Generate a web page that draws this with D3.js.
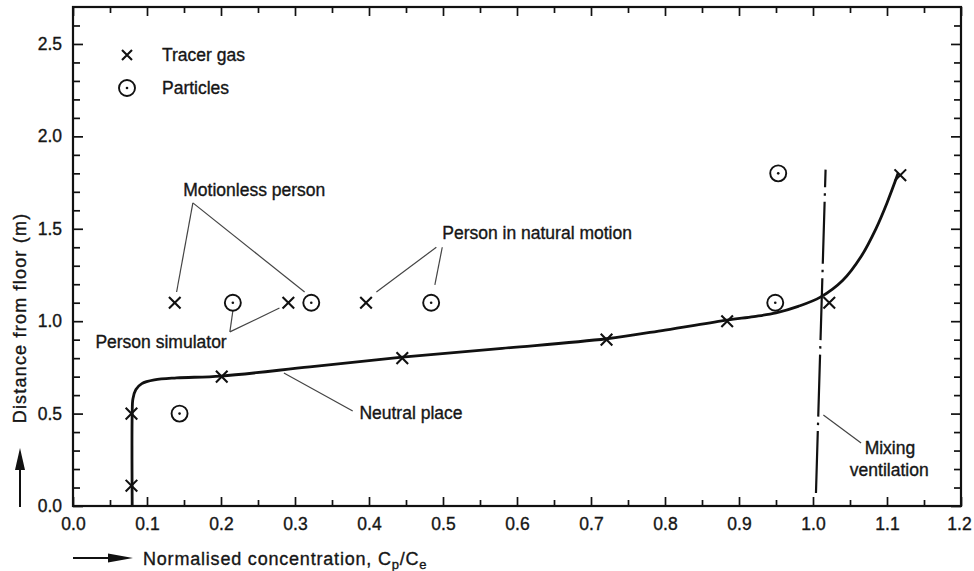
<!DOCTYPE html>
<html>
<head>
<meta charset="utf-8">
<script src="https://cdn.jsdelivr.net/npm/d3@7"></script>
<style>
  body { margin: 0; background: #fff; }
  svg text { font-family: Arial, "Liberation Sans", Helvetica, sans-serif; fill: #161616; stroke: #161616; stroke-width: 0.35px; }
</style>
</head>
<body>
<svg id="canvas" width="974" height="571"></svg>
<script>
// values
let xMajor = [0, 0.1, 0.2, 0.3, 0.4, 0.5, 0.6, 0.7, 0.8, 0.9, 1.0, 1.1, 1.2]
let xMinor = [0.05, 0.15, 0.25, 0.35, 0.45, 0.55, 0.65, 0.75, 0.85, 0.95, 1.05, 1.15]
let yMajor = [0, 0.5, 1.0, 1.5, 2.0, 2.5]
let yMinor = [0.1, 0.2, 0.3, 0.4, 0.6, 0.7, 0.8, 0.9, 1.1, 1.2, 1.3, 1.4, 1.6, 1.7, 1.8, 1.9, 2.1, 2.2, 2.3, 2.4, 2.6]

// neutral place profile (solid curve)
let curveX = [0.080, 0.080, 0.081, 0.085, 0.093, 0.110, 0.140, 0.200, 0.320, 0.445, 0.580, 0.721, 0.800, 0.884, 0.920, 0.950, 0.980, 1.010, 1.040, 1.065, 1.085, 1.100, 1.115]
let curveY = [0.0, 0.50, 0.58, 0.63, 0.662, 0.682, 0.693, 0.703, 0.753, 0.805, 0.853, 0.905, 0.952, 1.006, 1.025, 1.045, 1.080, 1.130, 1.220, 1.350, 1.500, 1.640, 1.800]

// tracer gas (x markers)
let tracerX = [0.079, 0.079, 0.201, 0.445, 0.721, 0.884, 1.022, 1.118, 0.1375, 0.291, 0.396]
let tracerY = [0.11, 0.5, 0.7, 0.8, 0.9, 1.0, 1.1, 1.79, 1.1, 1.1, 1.1]

// particles (dotted circles)
let particleX = [0.144, 0.216, 0.322, 0.484, 0.949, 0.953]
let particleY = [0.5, 1.1, 1.1, 1.1, 1.1, 1.8]

// mixing ventilation (dash-dot line)
let mixingX = [1.004, 1.017]
let mixingY = [0.07, 1.82]

let labels = [
    {text: 'Motionless person', x: 0.245, y: 1.677, anchor: 'middle'},
    {text: 'Person simulator', x: 0.119, y: 0.855, anchor: 'middle'},
    {text: 'Person in natural motion', x: 0.499, y: 1.445, anchor: 'start'},
    {text: 'Neutral place', x: 0.387, y: 0.471, anchor: 'start'},
    {text: 'Mixing', x: 1.104, y: 0.281, anchor: 'middle'},
    {text: 'ventilation', x: 1.103, y: 0.162, anchor: 'middle'}
]

let leaders = [
    [0.162, 1.64, 0.140, 1.158],
    [0.162, 1.64, 0.313, 1.158],
    [0.212, 0.942, 0.216, 1.055],
    [0.212, 0.942, 0.279, 1.071],
    [0.491, 1.40, 0.410, 1.158],
    [0.499, 1.40, 0.489, 1.196],
    [0.378, 0.514, 0.285, 0.72],
    [1.014, 0.492, 1.065, 0.341]
]

let canvas = d3.select('#canvas')

let xScale = d3.scaleLinear().domain([0, 1.2]).range([73, 961])
let yScale = d3.scaleLinear().domain([0, 2.7]).range([506, 7])

let fmt = d3.format('.1f')

let styleAxis = (g) => {
    g.select('.domain').remove()
    g.selectAll('line').attr('stroke', '#111').attr('stroke-width', 1.7)
    g.selectAll('text').attr('font-size', 17.5).style('font-family', 'Arial, "Liberation Sans", sans-serif').attr('fill', '#161616')
}

// bottom
canvas.append('g').attr('transform', 'translate(0,506)')
    .call(d3.axisBottom(xScale).tickValues(xMajor).tickFormat(fmt).tickSize(-9).tickPadding(12))
    .call(styleAxis)
    .call(g => g.selectAll('text').filter(d => d === 1.2).attr('dx', -2))
canvas.append('g').attr('transform', 'translate(0,506)')
    .call(d3.axisBottom(xScale).tickValues(xMinor).tickFormat('').tickSize(-6))
    .call(styleAxis)
// top
canvas.append('g').attr('transform', 'translate(0,7)')
    .call(d3.axisTop(xScale).tickValues(xMajor).tickFormat('').tickSize(-9))
    .call(styleAxis)
canvas.append('g').attr('transform', 'translate(0,7)')
    .call(d3.axisTop(xScale).tickValues(xMinor).tickFormat('').tickSize(-6))
    .call(styleAxis)
// left
canvas.append('g').attr('transform', 'translate(73,0)')
    .call(d3.axisLeft(yScale).tickValues(yMajor).tickFormat(fmt).tickSize(-10).tickPadding(11))
    .call(styleAxis)
canvas.append('g').attr('transform', 'translate(73,0)')
    .call(d3.axisLeft(yScale).tickValues(yMinor).tickFormat('').tickSize(-7))
    .call(styleAxis)
// right
canvas.append('g').attr('transform', 'translate(961,0)')
    .call(d3.axisRight(yScale).tickValues(yMajor).tickFormat('').tickSize(-10))
    .call(styleAxis)
canvas.append('g').attr('transform', 'translate(961,0)')
    .call(d3.axisRight(yScale).tickValues(yMinor).tickFormat('').tickSize(-7))
    .call(styleAxis)

// frame
canvas.append('rect')
    .attr('x', xScale(0)).attr('y', yScale(2.7))
    .attr('width', xScale(1.2) - xScale(0)).attr('height', yScale(0) - yScale(2.7))
    .attr('fill', 'none').attr('stroke', '#111').attr('stroke-width', 2.2)

// leader lines
canvas.selectAll('.leader')
    .data(leaders)
    .enter()
    .append('line')
    .attr('class', 'leader')
    .attr('x1', d => xScale(d[0])).attr('y1', d => yScale(d[1]))
    .attr('x2', d => xScale(d[2])).attr('y2', d => yScale(d[3]))
    .attr('stroke', '#444').attr('stroke-width', 1.2)

// mixing ventilation
canvas.append('line')
    .attr('x1', xScale(mixingX[0])).attr('y1', yScale(mixingY[0]))
    .attr('x2', xScale(mixingX[1])).attr('y2', yScale(mixingY[1]))
    .attr('stroke', '#111').attr('stroke-width', 2.2)
    .attr('stroke-dasharray', '62,6,2.5,6')

// neutral place curve
let curvePts = curveX.map((x, i) => [x, curveY[i]])
canvas.append('path')
    .datum(curvePts)
    .attr('d', d3.line().x(d => xScale(d[0])).y(d => yScale(d[1])).curve(d3.curveCatmullRom.alpha(0.5)))
    .attr('fill', 'none').attr('stroke', '#111').attr('stroke-width', 2.8)

// markers
let drawCross = (g, cx, cy, s) => {
    g.append('path')
        .attr('d', `M${cx - s},${cy - s}L${cx + s},${cy + s}M${cx - s},${cy + s}L${cx + s},${cy - s}`)
        .attr('stroke', '#111').attr('stroke-width', 2.1).attr('fill', 'none')
}
let drawDotCircle = (g, cx, cy) => {
    g.append('circle').attr('cx', cx).attr('cy', cy).attr('r', 8)
        .attr('fill', '#fff').attr('stroke', '#111').attr('stroke-width', 1.9)
    g.append('circle').attr('cx', cx).attr('cy', cy).attr('r', 1.3).attr('fill', '#111')
}

let marks = canvas.append('g')
tracerX.forEach((x, i) => drawCross(marks, xScale(x), yScale(tracerY[i]), 5.8))
particleX.forEach((x, i) => drawDotCircle(marks, xScale(x), yScale(particleY[i])))

// legend
let legend = canvas.append('g')
drawCross(legend, 127, 55, 5)
drawDotCircle(legend, 127, 88)
legend.append('text').attr('x', 162).attr('y', 61).attr('font-size', 17.5).text('Tracer gas')
legend.append('text').attr('x', 162).attr('y', 94).attr('font-size', 17.5).text('Particles')

// annotation text
canvas.selectAll('.note')
    .data(labels)
    .enter()
    .append('text')
    .attr('class', 'note')
    .attr('x', d => xScale(d.x)).attr('y', d => yScale(d.y))
    .attr('text-anchor', d => d.anchor)
    .attr('font-size', 17.5)
    .text(d => d.text)

// y axis title with arrow
canvas.append('text')
    .attr('transform', 'translate(26,318) rotate(-90)')
    .attr('text-anchor', 'middle')
    .attr('font-size', 18)
    .attr('letter-spacing', 1.2)
    .text('Distance from floor (m)')
canvas.append('line').attr('x1', 20).attr('y1', 507).attr('x2', 20).attr('y2', 465)
    .attr('stroke', '#111').attr('stroke-width', 2)
canvas.append('path').attr('d', 'M20,448L25,470L15,470Z').attr('fill', '#111')

// x axis title with arrow
canvas.append('line').attr('x1', 73).attr('y1', 558).attr('x2', 115).attr('y2', 558)
    .attr('stroke', '#111').attr('stroke-width', 2)
canvas.append('path').attr('d', 'M133,558L108,553.5L108,562.5Z').attr('fill', '#111')
let xt = canvas.append('text').attr('x', 143).attr('y', 565).attr('font-size', 18).attr('letter-spacing', 0.8)
xt.append('tspan').text('Normalised concentration, C')
xt.append('tspan').attr('dy', 4).attr('font-size', 13).text('p')
xt.append('tspan').attr('dy', -4).text('/C')
xt.append('tspan').attr('dy', 4).attr('font-size', 13).text('e')
</script>
</body>
</html>
